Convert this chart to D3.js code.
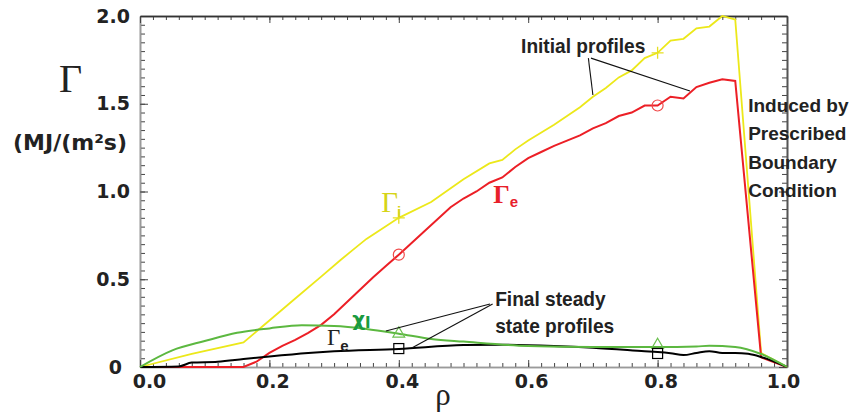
<!DOCTYPE html>
<html>
<head>
<meta charset="utf-8">
<script src="https://cdn.jsdelivr.net/npm/d3@7"></script>
<style>
  body { margin: 0; background: #fff; }
  svg { display: block; }
  .tick text { font-family: "DejaVu Sans", sans-serif; font-weight: bold; font-size: 19px; fill: #222; }
  .note { font-family: "Liberation Sans", Arial, sans-serif; font-weight: bold; font-size: 21px; fill: #222; }
  .note.side { font-size: 19px; }
</style>
</head>
<body>
<div id="chart"></div>
<script>
// initial ion flux profile (yellow)
var ionRho  = [0, 0.08, 0.16, 0.2, 0.24, 0.28, 0.31, 0.33, 0.35, 0.4, 0.45, 0.5, 0.54, 0.56, 0.58, 0.6, 0.64, 0.68, 0.7, 0.72, 0.74, 0.76, 0.78, 0.8, 0.82, 0.84, 0.86, 0.88, 0.9, 0.92, 0.96, 1.0];
var ionInit = [0, 0.075, 0.14, 0.265, 0.39, 0.515, 0.61, 0.67, 0.73, 0.85, 0.94, 1.07, 1.16, 1.18, 1.24, 1.29, 1.38, 1.48, 1.54, 1.59, 1.65, 1.69, 1.76, 1.79, 1.86, 1.87, 1.93, 1.94, 2.0, 1.98, 0.08, 0];

// initial electron flux profile (red)
var elecRho  = [0, 0.16, 0.18, 0.2, 0.22, 0.24, 0.26, 0.28, 0.3, 0.32, 0.34, 0.36, 0.38, 0.4, 0.44, 0.48, 0.5, 0.52, 0.54, 0.56, 0.58, 0.6, 0.62, 0.64, 0.66, 0.68, 0.7, 0.72, 0.74, 0.76, 0.78, 0.8, 0.82, 0.84, 0.86, 0.88, 0.9, 0.92, 0.96, 1.0];
var elecInit = [0, 0, 0.03, 0.08, 0.12, 0.155, 0.195, 0.24, 0.3, 0.37, 0.44, 0.51, 0.575, 0.64, 0.775, 0.91, 0.96, 1.0, 1.05, 1.08, 1.14, 1.19, 1.225, 1.26, 1.29, 1.32, 1.36, 1.39, 1.43, 1.45, 1.49, 1.49, 1.54, 1.53, 1.595, 1.62, 1.64, 1.63, 0.055, 0];

// final steady state chi_i (green)
var chiRho   = [0, 0.05, 0.1, 0.15, 0.2, 0.25, 0.3, 0.35, 0.4, 0.45, 0.5, 0.6, 0.7, 0.8, 0.86, 0.88, 0.92, 0.96, 1.0];
var chiFinal = [0, 0.095, 0.148, 0.195, 0.22, 0.238, 0.234, 0.217, 0.19, 0.16, 0.145, 0.12, 0.114, 0.114, 0.117, 0.121, 0.114, 0.074, 0];

// final steady state electron flux (black)
var finRho   = [0, 0.06, 0.08, 0.12, 0.16, 0.2, 0.26, 0.3, 0.4, 0.5, 0.56, 0.64, 0.7, 0.78, 0.8, 0.82, 0.84, 0.86, 0.88, 0.9, 0.92, 0.94, 0.96, 1.0];
var finFinal = [0, 0.003, 0.025, 0.03, 0.045, 0.06, 0.08, 0.09, 0.103, 0.125, 0.127, 0.12, 0.11, 0.09, 0.085, 0.078, 0.068, 0.08, 0.09, 0.08, 0.08, 0.075, 0.057, 0];

// symbols placed on the curves
var markRho   = [0.4, 0.8];
var ionMarks  = [0.85, 1.79];
var elecMarks = [0.64, 1.49];
var chiMarks  = [0.19, 0.125];
var finMarks  = [0.105, 0.077];

var xTickValues = [0, 0.2, 0.4, 0.6, 0.8, 1.0];
var xTickLabels = ['0.0', '0.2', '0.4', '0.6', '0.8', '1.0'];
var yTickValues = [0, 0.5, 1.0, 1.5, 2.0];
var yTickLabels = ['0', '0.5', '1.0', '1.5', '2.0'];

var svg = d3.select('#chart').append('svg').attr('width', 851).attr('height', 415);

var xScale = d3.scaleLinear().domain([0, 1]).range([140, 787]);
var yScale = d3.scaleLinear().domain([0, 2]).range([367, 16]);

var xMinor = d3.range(0, 1.0001, 0.02);
var yMinor = d3.range(0, 2.0001, 0.05);

function styleAxis(g, lineColor) {
	g.select('.domain').attr('stroke', lineColor).attr('stroke-width', 1.6);
	g.selectAll('.tick line').attr('stroke', '#444').attr('stroke-width', 1);
}

// minor ticks, all four sides
svg.append('g').attr('transform', 'translate(140,0)')
	.call(d3.axisLeft(yScale).tickValues(yMinor).tickSize(-5).tickSizeOuter(0).tickFormat(''))
	.call(styleAxis, '#9a9a9a');
svg.append('g').attr('transform', 'translate(787,0)')
	.call(d3.axisRight(yScale).tickValues(yMinor).tickSize(-5).tickSizeOuter(0).tickFormat(''))
	.call(styleAxis, '#555');
svg.append('g').attr('transform', 'translate(0,367)')
	.call(d3.axisBottom(xScale).tickValues(xMinor).tickSize(-4).tickSizeOuter(0).tickFormat(''))
	.call(styleAxis, '#9a9a9a');
svg.append('g').attr('transform', 'translate(0,16)')
	.call(d3.axisTop(xScale).tickValues(xMinor).tickSize(-4).tickSizeOuter(0).tickFormat(''))
	.call(styleAxis, '#333');

// major ticks with labels
var yAxisG = svg.append('g').attr('transform', 'translate(140,0)')
	.call(d3.axisLeft(yScale).tickValues(yTickValues).tickSize(-8).tickSizeOuter(0).tickPadding(10)
		.tickFormat(function(d, i) { return yTickLabels[i]; }))
	.call(styleAxis, '#9a9a9a');
yAxisG.selectAll('.tick text').attr('dx', function(d) { return d === 0 ? -8 : 0; });

var xAxisG = svg.append('g').attr('transform', 'translate(0,367)')
	.call(d3.axisBottom(xScale).tickValues(xTickValues).tickSize(-7).tickSizeOuter(0).tickPadding(8)
		.tickFormat(function(d, i) { return xTickLabels[i]; }))
	.call(styleAxis, '#9a9a9a');
xAxisG.selectAll('.tick text').attr('dx', function(d) { return d === 0 ? 9 : (d === 1 ? -4 : 3); });

svg.append('g').attr('transform', 'translate(787,0)')
	.call(d3.axisRight(yScale).tickValues(yTickValues).tickSize(-8).tickSizeOuter(0).tickFormat(''))
	.call(styleAxis, '#555');
svg.append('g').attr('transform', 'translate(0,16)')
	.call(d3.axisTop(xScale).tickValues(xTickValues).tickSize(-7).tickSizeOuter(0).tickFormat(''))
	.call(styleAxis, '#333');

// axis titles
svg.append('text').attr('x', 59).attr('y', 92)
	.style('font-family', '"Liberation Serif", serif').style('font-size', '40px').style('fill', '#222')
	.text('Γ');
svg.append('text').attr('x', 13).attr('y', 150)
	.style('font-family', '"DejaVu Sans", sans-serif').style('font-weight', 'bold').style('font-size', '22px').style('fill', '#222')
	.text('(MJ/(m²s)');
svg.append('text').attr('x', 443).attr('y', 405).attr('text-anchor', 'middle')
	.style('font-family', '"Liberation Serif", serif').style('font-size', '31px').style('fill', '#222')
	.text('ρ');

// profiles
var line = d3.line()
	.x(function(d) { return xScale(d[0]); })
	.y(function(d) { return yScale(d[1]); });
var smooth = d3.line()
	.x(function(d) { return xScale(d[0]); })
	.y(function(d) { return yScale(d[1]); })
	.curve(d3.curveMonotoneX);

svg.append('path').attr('d', line(d3.zip(ionRho, ionInit)))
	.attr('fill', 'none').attr('stroke', '#ece81a').attr('stroke-width', 1.8);
svg.append('path').attr('d', line(d3.zip(elecRho, elecInit)))
	.attr('fill', 'none').attr('stroke', '#ec1f26').attr('stroke-width', 2);
svg.append('path').attr('d', smooth(d3.zip(finRho, finFinal)))
	.attr('fill', 'none').attr('stroke', '#000').attr('stroke-width', 2);
svg.append('path').attr('d', smooth(d3.zip(chiRho, chiFinal)))
	.attr('fill', 'none').attr('stroke', '#5cb840').attr('stroke-width', 2);

// markers
svg.append('g').selectAll('path')
	.data(d3.zip(markRho, ionMarks)).enter().append('path')
	.attr('transform', function(d) { return 'translate(' + xScale(d[0]) + ',' + yScale(d[1]) + ')'; })
	.attr('d', 'M-6,0H6M0,-6V6')
	.attr('stroke', '#e6e020').attr('stroke-width', 1.3);
svg.append('g').selectAll('circle')
	.data(d3.zip(markRho, elecMarks)).enter().append('circle')
	.attr('cx', function(d) { return xScale(d[0]); })
	.attr('cy', function(d) { return yScale(d[1]); })
	.attr('r', 5.5)
	.attr('fill', 'none').attr('stroke', '#f04848').attr('stroke-width', 1.2);
svg.append('g').selectAll('path')
	.data(d3.zip(markRho, chiMarks)).enter().append('path')
	.attr('transform', function(d) { return 'translate(' + xScale(d[0]) + ',' + yScale(d[1]) + ')'; })
	.attr('d', d3.symbol(d3.symbolTriangle, 60))
	.attr('fill', 'none').attr('stroke', '#6cc050').attr('stroke-width', 1.2);
svg.append('g').selectAll('rect')
	.data(d3.zip(markRho, finMarks)).enter().append('rect')
	.attr('x', function(d) { return xScale(d[0]) - 5; })
	.attr('y', function(d) { return yScale(d[1]) - 5; })
	.attr('width', 10).attr('height', 10)
	.attr('fill', 'none').attr('stroke', '#000').attr('stroke-width', 1.2);

// curve labels
function curveLabel(rho, val, main, sub, color, mainFont, subDx, subDy) {
	var t = svg.append('text')
		.attr('x', xScale(rho)).attr('y', yScale(val))
		.style('fill', color);
	t.append('tspan').style('font-family', '"Liberation Serif", serif')
		.style('font-weight', mainFont.weight).style('font-size', mainFont.size + 'px')
		.text(main);
	t.append('tspan').attr('dx', subDx).attr('dy', subDy)
		.style('font-family', '"Liberation Sans", sans-serif').style('font-weight', 'bold').style('font-size', '15px')
		.text(sub);
}
curveLabel(0.373, 0.883, 'Γ', 'i', '#d6d418', { weight: 'normal', size: 29 }, -1, 5);
curveLabel(0.546, 0.935, 'Γ', 'e', '#e8202a', { weight: 'bold', size: 26 }, 0, 4);
curveLabel(0.289, 0.125, 'Γ', 'e', '#222', { weight: 'normal', size: 23 }, 0, 6);

var chiText = svg.append('text')
	.attr('x', xScale(0.328)).attr('y', yScale(0.236))
	.style('fill', '#1a9a40').style('font-family', '"DejaVu Sans", sans-serif').style('font-weight', 'bold');
chiText.append('tspan').style('font-size', '20px').text('χ');
chiText.append('tspan').attr('dy', 2).style('font-size', '15px').text('I');

// annotations
function pointer(fromRho, fromVal, toRho, toVal) {
	svg.append('line')
		.attr('x1', xScale(fromRho)).attr('y1', yScale(fromVal))
		.attr('x2', xScale(toRho)).attr('y2', yScale(toVal))
		.attr('stroke', '#111').attr('stroke-width', 1.1);
}
pointer(0.693, 1.76, 0.700, 1.55);
pointer(0.697, 1.76, 0.850, 1.573);
pointer(0.541, 0.359, 0.380, 0.205);
pointer(0.545, 0.359, 0.420, 0.108);

svg.append('text').attr('class', 'note').attr('x', xScale(0.589)).attr('y', yScale(1.789)).text('Initial profiles');
svg.append('text').attr('class', 'note').attr('x', xScale(0.549)).attr('y', yScale(0.348)).text('Final steady');
svg.append('text').attr('class', 'note').attr('x', xScale(0.549)).attr('y', yScale(0.194)).text('state profiles');

// the original lettering is a slightly condensed bold face
svg.selectAll('.note').each(function() {
	var w = this.getComputedTextLength();
	d3.select(this).attr('textLength', w * 0.91).attr('lengthAdjust', 'spacingAndGlyphs');
});

var sideNote = ['Induced by', 'Prescribed', 'Boundary', 'Condition'];
svg.append('g').selectAll('text')
	.data(sideNote).enter().append('text')
	.attr('class', 'note side')
	.attr('x', xScale(0.94))
	.attr('y', function(d, i) { return yScale(1.453) + i * 28.3; })
	.text(function(d) { return d; });
</script>
</body>
</html>
